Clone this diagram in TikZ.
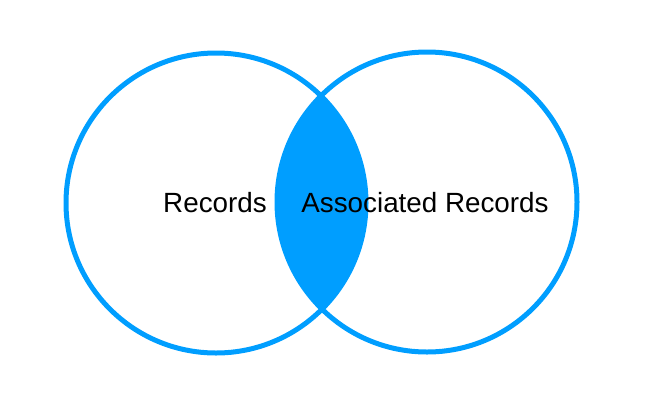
\documentclass[tikz,border=0pt]{standalone}
\usepackage{fontspec}
\setmainfont{Liberation Sans}
\usetikzlibrary{positioning}
\definecolor{vennblue}{RGB}{0,158,255}

\begin{document}
\begin{tikzpicture}[x=1pt,y=-1pt,
    ring/.style={circle, draw=vennblue, line width=5pt, minimum size=300pt, inner sep=0pt},
    label/.style={font=\fontsize{27.8}{31}\selectfont, text=black, inner sep=0pt}]
\useasboundingbox (0,0) rectangle (648,408);
% overlap of the two sets
\begin{scope}
    \clip (216,203) circle (150pt);
    \fill[vennblue] (427,202) circle (150pt);
\end{scope}
\node[ring] (recs) at (216,203) {};
\node[ring] (assoc) at (427,202) {};
    \node[label] (recslabel) at (215,203) {Records};
    \node[label] (assoclabel) at (425,203) {Associated Records};
\end{tikzpicture}
\end{document}
